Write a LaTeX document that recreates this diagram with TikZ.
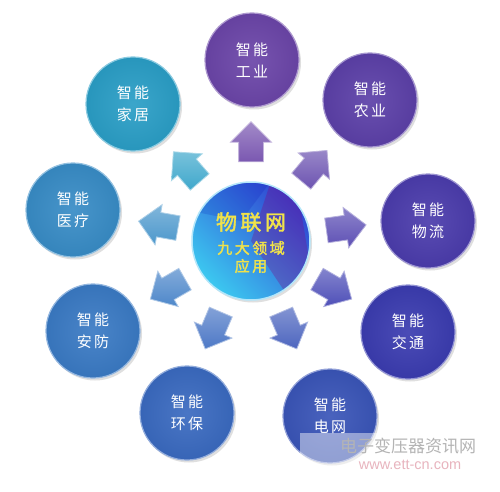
\documentclass[tikz,border=0pt]{standalone}
\usepackage{fontspec}
\newfontfamily\cjk{Noto Sans CJK SC}
\newfontfamily\cjkb[FakeBold=2]{Noto Sans CJK SC}
\setsansfont{Liberation Sans}
\usetikzlibrary{shapes.arrows,shadows,calc}
\definecolor{cgy}{HTML}{6B45A8}
\definecolor{cny}{HTML}{5C40A8}
\definecolor{cwl}{HTML}{4B3CAC}
\definecolor{cjt}{HTML}{3B3CB0}
\definecolor{cdw}{HTML}{3A55B8}
\definecolor{chb}{HTML}{3A6AC0}
\definecolor{caf}{HTML}{3A7AC4}
\definecolor{cyl}{HTML}{388CC6}
\definecolor{cjj}{HTML}{2A9EC6}
\definecolor{ctxt}{HTML}{F0E24A}
\definecolor{cwm}{HTML}{B4B4B4}
\definecolor{cwmp}{HTML}{E8B4BE}
\begin{document}
\begin{tikzpicture}[x=1pt,y=1pt,
  ball/.style={circle, minimum size=94pt, inner sep=0pt, text=white,
    font=\cjk\fontsize{15}{22}\selectfont, align=center,
    shading=radial, inner color=#1!92!white, outer color=#1!95!black,
    draw=#1!55!white, line width=1.2pt,
    drop shadow={opacity=0.25, shadow xshift=2pt, shadow yshift=-2.5pt}},
  arrowbox/.style={single arrow, minimum height=40pt,
    single arrow head extend=8pt, single arrow tip angle=90,
    inner xsep=0pt, inner ysep=12pt,
    shading=axis, top color=#1!70!white, bottom color=#1,
    draw=#1!45!white, line width=0.8pt}
]
\useasboundingbox (0,0) rectangle (500,491);
\fill[white] (0,0) rectangle (500,491);

% centre
\node[circle, minimum size=118pt, inner sep=0pt,
  shading=axis, top color={rgb,255:red,48;green,70;blue,210}, bottom color={rgb,255:red,60;green,200;blue,240}, shading angle=-45,
  draw=white!70!cyan, line width=1.5pt,
  drop shadow={opacity=0.25, shadow xshift=2pt, shadow yshift=-2.5pt}] (c) at (251,250) {};
\begin{scope}
  \clip (c.center) circle (58);
  \fill[violet, opacity=0.3] ($(c.center)+(20,60)$) -- ($(c.center)+(45,60)$) -- ($(c.center)+(60,-30)$) -- ($(c.center)+(40,-60)$) -- ($(c.center)+(0,0)$) -- cycle;
  \fill[blue!70!black, opacity=0.15] ($(c.center)+(-60,60)$) -- ($(c.center)+(20,60)$) -- ($(c.center)+(-10,20)$) -- ($(c.center)+(-60,30)$) -- cycle;
\end{scope}
\node[text=ctxt, font=\cjkb\fontsize{21}{21}\selectfont, inner sep=0pt] (t1) at (251,269) {物\,联\,网};
\node[text=ctxt, font=\cjkb\fontsize{15}{15}\selectfont, inner sep=0pt] (t2) at (251,243) {九\,大\,领\,域};
\node[text=ctxt, font=\cjkb\fontsize{15}{15}\selectfont, inner sep=0pt] (t3) at (251,225) {应\,用};

% outer balls
\node[ball=cgy] (gy) at (252,431) {智\,能\\工\,业};
\node[ball=cny] (ny) at (370,391) {智\,能\\农\,业};
\node[ball=cwl] (wl) at (428,270) {智\,能\\物\,流};
\node[ball=cjt] (jt) at (408,159) {智\,能\\交\,通};
\node[ball=cdw] (dw) at (330,75) {智\,能\\电\,网};
\node[ball=chb] (hb) at (187,78) {智\,能\\环\,保};
\node[ball=caf] (af) at (93,160) {智\,能\\安\,防};
\node[ball=cyl] (yl) at (73,281) {智\,能\\医\,疗};
\node[ball=cjj] (jj) at (133,387) {智\,能\\家\,居};

% arrows
\node[arrowbox=cgy!90!white, rotate=90]  (a1) at ($(c.center)+(90:93)$) {};
\node[arrowbox=cny!90!white, rotate=50]  (a2) at ($(c.center)+(50:92)$) {};
\node[arrowbox=cwl!90!white, rotate=8]   (a3) at ($(c.center)+(8:90)$) {};
\node[arrowbox=cjt!90!white, rotate=-30] (a4) at ($(c.center)+(-30:90)$) {};
\node[arrowbox=cdw!90!white, rotate=-67] (a5) at ($(c.center)+(-67:91)$) {};
\node[arrowbox=chb!90!white, rotate=-113](a6) at ($(c.center)+(-113:91)$) {};
\node[arrowbox=caf!90!white, rotate=-150](a7) at ($(c.center)+(-150:90)$) {};
\node[arrowbox=cyl!90!white, rotate=170] (a8) at ($(c.center)+(170:88)$) {};
\node[arrowbox=cjj!90!white, rotate=131] (a9) at ($(c.center)+(131:92)$) {};

% watermark
\fill[white, opacity=0.45] (300,18) rectangle (492,58);
\node[text=cwm, font=\cjk\fontsize{17}{17}\selectfont, inner sep=0pt] (wm1) at (408,45) {电子变压器资讯网};
\node[text=cwmp, font=\sffamily\fontsize{14.5}{14.5}\selectfont, inner sep=0pt] (wm2) at (410,26) {www.ett-cn.com};
\end{tikzpicture}
\end{document}
